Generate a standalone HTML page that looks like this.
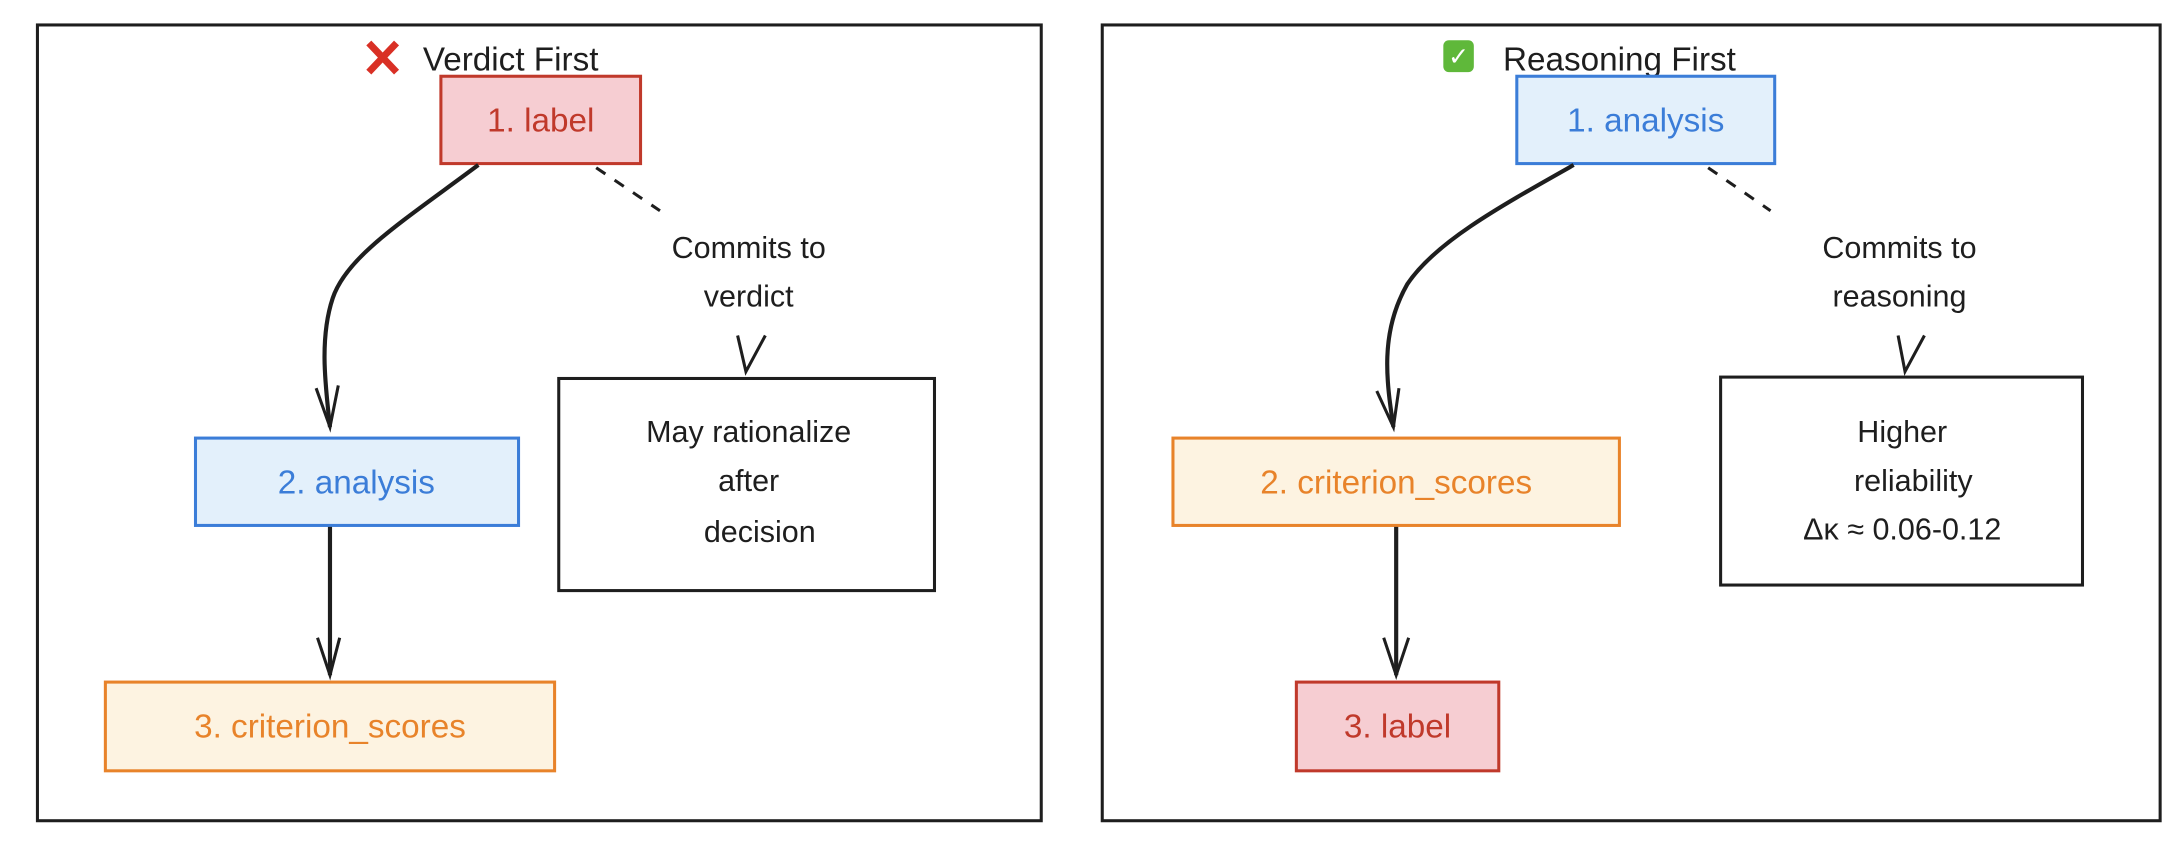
<!DOCTYPE html>
<html><head><meta charset="utf-8"><style>
html,body{margin:0;padding:0;background:#fff;}
svg{display:block;}
text{font-family:"Liberation Sans","DejaVu Sans",sans-serif;}
</style></head><body>
<svg width="2174" height="854" viewBox="0 0 1568 616" preserveAspectRatio="none" xmlns="http://www.w3.org/2000/svg">
<rect x="0" y="0" width="1568" height="616" fill="#fff"/>
<!-- Left frame -->
<rect x="27" y="18" width="724" height="574" fill="none" stroke="#1e1e1e" stroke-width="2.2"/>
<path d="M266 31 L286 52 M286 31 L266 52" stroke="#d93025" stroke-width="5"/>
<text x="305" y="51" font-size="24" fill="#1e1e1e">Verdict First</text>
<rect x="318" y="55" width="144" height="63" fill="#f6cdd2" stroke="#c0392b" stroke-width="2.2"/>
<text x="390" y="95" font-size="24" fill="#c0392b" text-anchor="middle">1. label</text>
<path d="M345 119 C290 160 250 185 240 215 C230 245 235 280 238 308" fill="none" stroke="#1e1e1e" stroke-width="3"/>
<path d="M228 280 L238 308 L244 278" fill="none" stroke="#1e1e1e" stroke-width="2.2"/>
<rect x="141" y="316" width="233" height="63" fill="#e3f0fb" stroke="#3b7dd8" stroke-width="2.2"/>
<text x="257" y="356" font-size="24" fill="#3b7dd8" text-anchor="middle">2. analysis</text>
<path d="M238 380 L238 487" fill="none" stroke="#1e1e1e" stroke-width="3"/>
<path d="M229 460 L238 487 L245 460" fill="none" stroke="#1e1e1e" stroke-width="2.2"/>
<rect x="76" y="492" width="324" height="64" fill="#fdf3e1" stroke="#e8832a" stroke-width="2.2"/>
<text x="238" y="532" font-size="24" fill="#e8832a" text-anchor="middle">3. criterion_scores</text>
<path d="M430 121 L476 152" fill="none" stroke="#1e1e1e" stroke-width="2.2" stroke-dasharray="8 8"/>
<text x="540" y="186" font-size="22" fill="#1e1e1e" text-anchor="middle">Commits to</text>
<text x="540" y="221" font-size="22" fill="#1e1e1e" text-anchor="middle">verdict</text>
<path d="M532 242 L538 268 L552 242" fill="none" stroke="#1e1e1e" stroke-width="2.2"/>
<rect x="403" y="273" width="271" height="153" fill="#fff" stroke="#1e1e1e" stroke-width="2.2"/>
<text x="540" y="319" font-size="22" fill="#1e1e1e" text-anchor="middle">May rationalize</text>
<text x="540" y="354" font-size="22" fill="#1e1e1e" text-anchor="middle">after</text>
<text x="548" y="391" font-size="22" fill="#1e1e1e" text-anchor="middle">decision</text>
<!-- Right frame -->
<rect x="795" y="18" width="763" height="574" fill="none" stroke="#1e1e1e" stroke-width="2.2"/>
<rect x="1041" y="29" width="22" height="23" rx="4" fill="#5fb83a"/>
<text x="1052" y="47" font-size="18" fill="#fff" text-anchor="middle" font-weight="bold">✓</text>
<text x="1084" y="51" font-size="24" fill="#1e1e1e">Reasoning First</text>
<rect x="1094" y="55" width="186" height="63" fill="#e3f0fb" stroke="#3b7dd8" stroke-width="2.2"/>
<text x="1187" y="95" font-size="24" fill="#3b7dd8" text-anchor="middle">1. analysis</text>
<path d="M1135 119 C1080 150 1035 175 1015 205 C995 240 1000 275 1005 308" fill="none" stroke="#1e1e1e" stroke-width="3"/>
<path d="M993 282 L1005 308 L1009 280" fill="none" stroke="#1e1e1e" stroke-width="2.2"/>
<rect x="846" y="316" width="322" height="63" fill="#fdf3e1" stroke="#e8832a" stroke-width="2.2"/>
<text x="1007" y="356" font-size="24" fill="#e8832a" text-anchor="middle">2. criterion_scores</text>
<path d="M1007 380 L1007 487" fill="none" stroke="#1e1e1e" stroke-width="3"/>
<path d="M998 460 L1007 487 L1016 460" fill="none" stroke="#1e1e1e" stroke-width="2.2"/>
<rect x="935" y="492" width="146" height="64" fill="#f6cdd2" stroke="#c0392b" stroke-width="2.2"/>
<text x="1008" y="532" font-size="24" fill="#c0392b" text-anchor="middle">3. label</text>
<path d="M1232 121 L1277 152" fill="none" stroke="#1e1e1e" stroke-width="2.2" stroke-dasharray="8 8"/>
<text x="1370" y="186" font-size="22" fill="#1e1e1e" text-anchor="middle">Commits to</text>
<text x="1370" y="221" font-size="22" fill="#1e1e1e" text-anchor="middle">reasoning</text>
<path d="M1369 242 L1374 268 L1388 242" fill="none" stroke="#1e1e1e" stroke-width="2.2"/>
<rect x="1241" y="272" width="261" height="150" fill="#fff" stroke="#1e1e1e" stroke-width="2.2"/>
<text x="1372" y="319" font-size="22" fill="#1e1e1e" text-anchor="middle">Higher</text>
<text x="1380" y="354" font-size="22" fill="#1e1e1e" text-anchor="middle">reliability</text>
<text x="1372" y="389" font-size="22" fill="#1e1e1e" text-anchor="middle">Δκ ≈ 0.06-0.12</text>
</svg>
</body></html>
